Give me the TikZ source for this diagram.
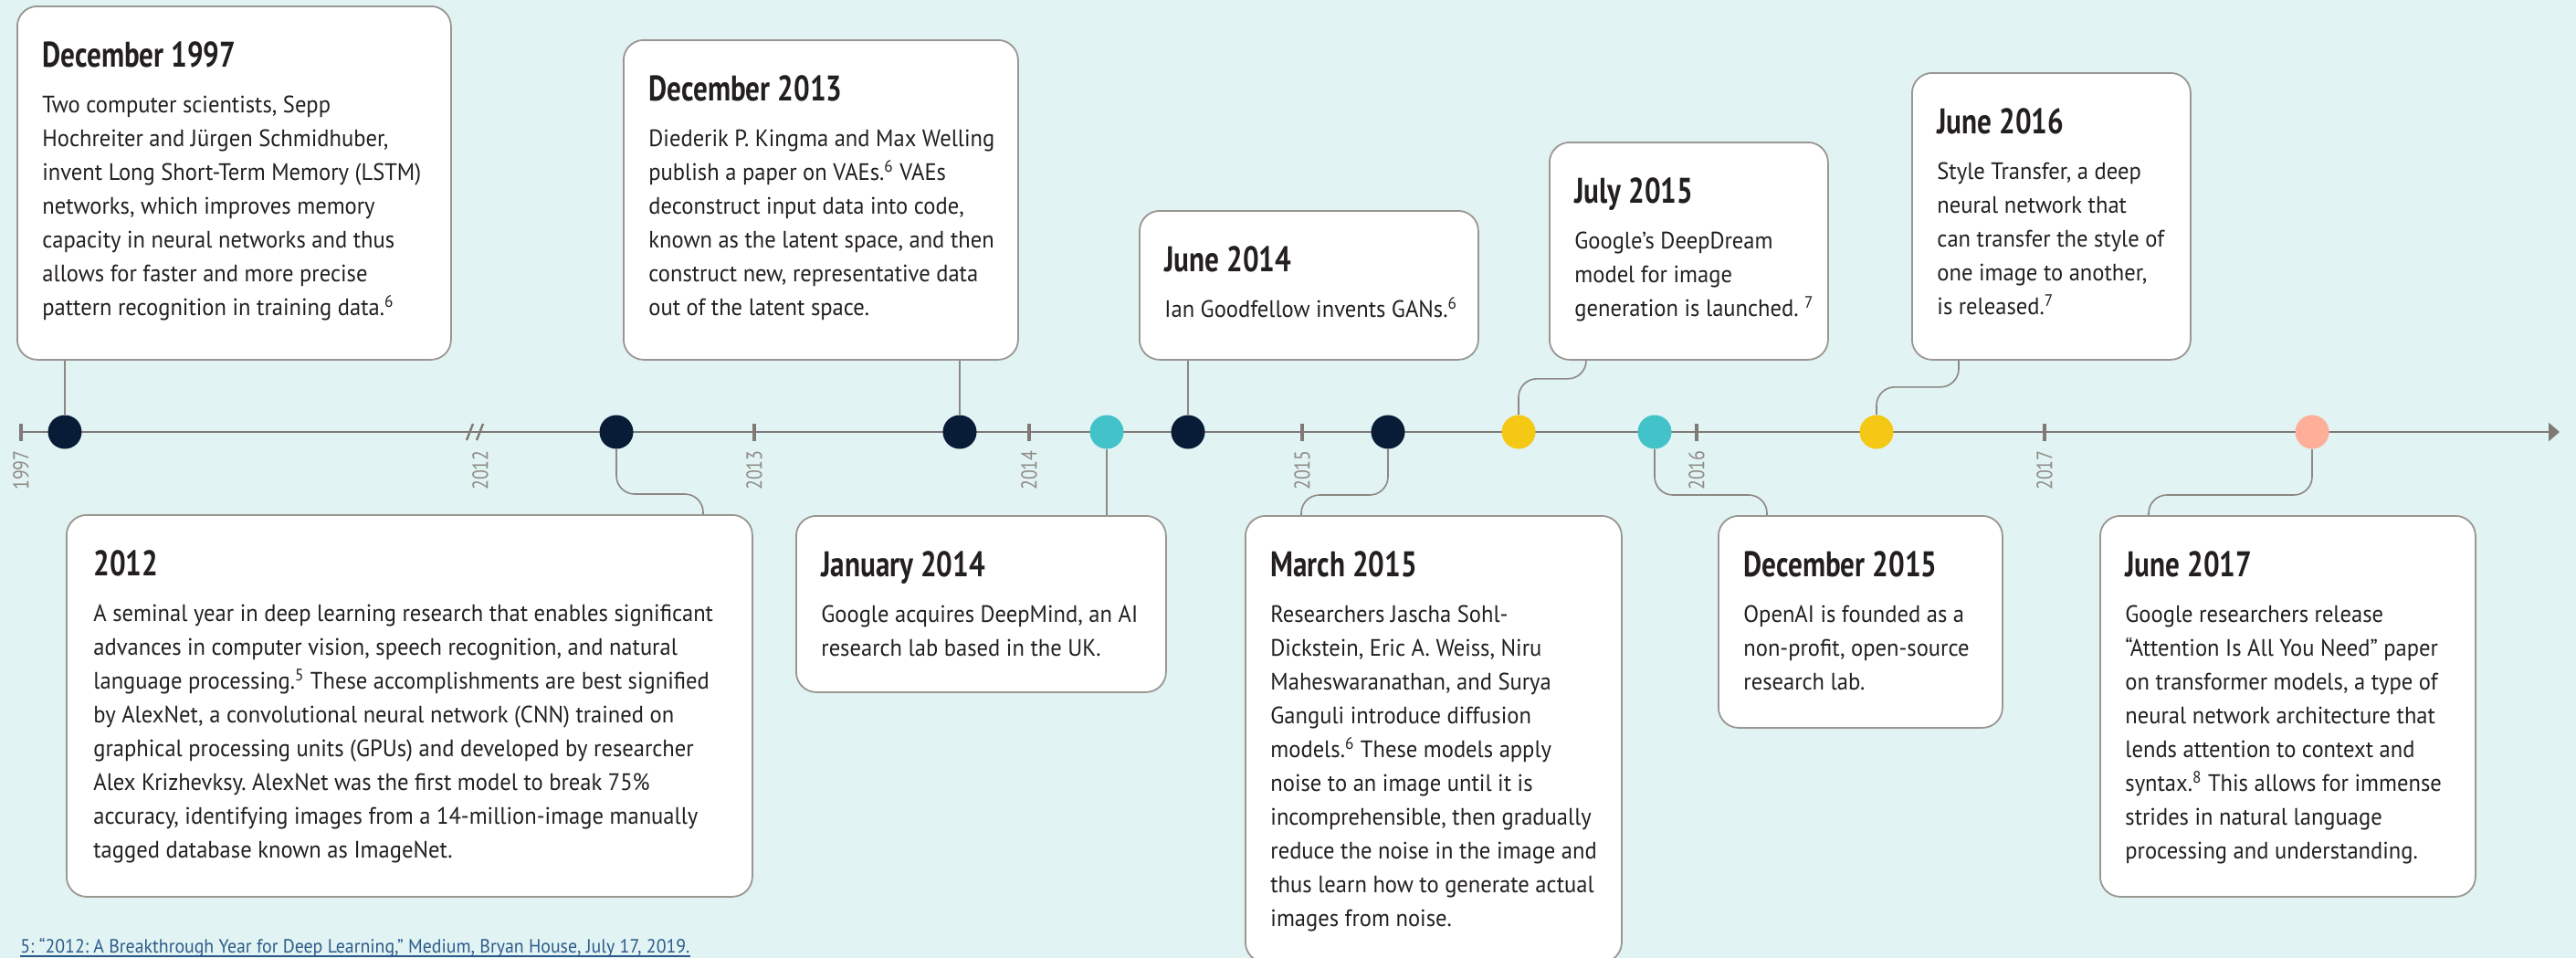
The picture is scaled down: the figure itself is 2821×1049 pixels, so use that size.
\documentclass[tikz,border=0pt]{standalone}
\usepackage{fontspec}
\usetikzlibrary{positioning,arrows.meta}

\newfontfamily\cardfont{PT Sans}[FakeStretch=0.945]
\newfontfamily\titlefont{PT Sans}[FakeStretch=0.8]
\newfontfamily\yearfont{PT Sans}[FakeStretch=0.83]

\definecolor{bgcol}{HTML}{E1F3F3}
\definecolor{navydot}{HTML}{081C38}
\definecolor{tealdot}{HTML}{42C3C9}
\definecolor{yellowdot}{HTML}{F5C815}
\definecolor{salmondot}{HTML}{FFAE99}
\definecolor{axisgrey}{HTML}{7F7A75}
\definecolor{linkgrey}{HTML}{8C8883}
\definecolor{yeargrey}{HTML}{8F8B86}
\definecolor{cardline}{HTML}{9A9792}
\definecolor{inkdark}{HTML}{231F20}
\definecolor{notecol}{HTML}{2D5B8A}

\tikzset{
  card/.style={draw=cardline, line width=0.9pt, fill=white, rounded corners=11pt,
    anchor=north west, inner sep=0pt},
  cardtext/.style={inner sep=0pt, align=left, text=inkdark,
    font=\cardfont\fontsize{13}{18.5}\selectfont\frenchspacing},
  event/.style={circle, inner sep=0pt, minimum size=18.5pt, fill=#1},
  link/.style={draw=linkgrey, line width=0.8pt, rounded corners=10pt},
  axis/.style={draw=axisgrey, line width=1.2pt},
  yeartick/.style={draw=axisgrey, line width=2pt},
  yearlabel/.style={rotate=90, anchor=east, inner sep=0pt, text=yeargrey,
    font=\yearfont\fontsize{12}{12}\selectfont},
  note/.style={inner sep=0pt, anchor=base west, text=notecol,
    font=\cardfont\fontsize{10.5}{12}\selectfont\frenchspacing}
}

\newcommand{\cardhead}[1]{{\titlefont\bfseries\fontsize{19.5}{25}\selectfont\rule{0pt}{15pt}#1}\\[6.5pt]}

\begin{document}
\begin{tikzpicture}[x=0.5pt, y=-0.5pt]
  \fill[bgcol] (0,0) rectangle (2821,1049);
  \useasboundingbox (0,0) rectangle (2821,1049);

  % time axis
  \coordinate (axstart) at (23,473);
  \coordinate (axend) at (2803,473);
  \draw[axis, -{Triangle[length=6pt, width=10pt]}] (axstart) -- (axend);
  \foreach \x/\yr in {23/1997, 826/2013, 1127/2014, 1426/2015, 1858/2016, 2239/2017} {
    \draw[yeartick] (\x,464) -- (\x,483);
    \node[yearlabel] (y\yr) at (\x,493) {\yr};
  }
  % break in the axis
  \draw[axis] (511,482) -- (518,464) (522,482) -- (529,464);
  \node[yearlabel] (y2012) at (526,493) {2012};

  % events
  \node[event=navydot] (d97) at (71,473) {};
  \node[event=navydot] (d12) at (675,473) {};
  \node[event=navydot] (d13) at (1051,473) {};
  \node[event=tealdot] (d14a) at (1212,473) {};
  \node[event=navydot] (d14b) at (1301,473) {};
  \node[event=navydot] (d15a) at (1520,473) {};
  \node[event=yellowdot] (d15b) at (1663,473) {};
  \node[event=tealdot] (d15c) at (1812,473) {};
  \node[event=yellowdot] (d16) at (2055,473) {};
  \node[event=salmondot] (d17) at (2532,473) {};

  % cards above the axis
  \node[card, minimum width=237.5pt, minimum height=193.5pt] (c97) at (18,6) {};
  \node[cardtext, below right=18.5pt and 14pt of c97.north west] (t97) {\cardhead{December 1997}%
    Two computer scientists, Sepp\\
    Hochreiter and Jürgen Schmidhuber,\\
    invent Long Short-Term Memory (LSTM)\\
    networks, which improves memory\\
    capacity in neural networks and thus\\
    allows for faster and more precise\\
    pattern recognition in training data.\textsuperscript{6}};

  \node[card, minimum width=216pt, minimum height=175pt] (c13) at (682,43) {};
  \node[cardtext, below right=18.5pt and 14pt of c13.north west] (t13) {\cardhead{December 2013}%
    Diederik P. Kingma and Max Welling\\
    publish a paper on VAEs.\textsuperscript{6} VAEs\\
    deconstruct input data into code,\\
    known as the latent space, and then\\
    construct new, representative data\\
    out of the latent space.};

  \node[card, minimum width=185.5pt, minimum height=81.5pt] (c14b) at (1247,230) {};
  \node[cardtext, below right=18.5pt and 14pt of c14b.north west] (t14b) {\cardhead{June 2014}%
    Ian Goodfellow invents GANs.\textsuperscript{6}};

  \node[card, minimum width=152.5pt, minimum height=119pt] (c15b) at (1696,155) {};
  \node[cardtext, below right=18.5pt and 14pt of c15b.north west] (t15b) {\cardhead{July 2015}%
    Google’s DeepDream\\
    model for image\\
    generation is launched. \textsuperscript{7}};

  \node[card, minimum width=152.5pt, minimum height=157pt] (c16) at (2093,79) {};
  \node[cardtext, below right=18.5pt and 14pt of c16.north west] (t16) {\cardhead{June 2016}%
    Style Transfer, a deep\\
    neural network that\\
    can transfer the style of\\
    one image to another,\\
    is released.\textsuperscript{7}};

  % cards below the axis
  \node[card, minimum width=375.5pt, minimum height=209pt] (c12) at (72,563) {};
  \node[cardtext, below right=18.5pt and 15pt of c12.north west] (t12) {\cardhead{2012}%
    A seminal year in deep learning research that enables significant\\
    advances in computer vision, speech recognition, and natural\\
    language processing.\textsuperscript{5} These accomplishments are best signified\\
    by AlexNet, a convolutional neural network (CNN) trained on\\
    graphical processing units (GPUs) and developed by researcher\\
    Alex Krizhevksy. AlexNet was the first model to break 75\%\\
    accuracy, identifying images from a 14-million-image manually\\
    tagged database known as ImageNet.};

  \node[card, minimum width=202.5pt, minimum height=96.5pt] (c14a) at (871,564) {};
  \node[cardtext, below right=18.5pt and 14pt of c14a.north west] (t14a) {\cardhead{January 2014}%
    Google acquires DeepMind, an AI\\
    research lab based in the UK.};

  \node[card, minimum width=206pt, minimum height=244.5pt] (c15a) at (1363,564) {};
  \node[cardtext, below right=18.5pt and 14pt of c15a.north west] (t15a) {\cardhead{March 2015}%
    Researchers Jascha Sohl-\\
    Dickstein, Eric A. Weiss, Niru\\
    Maheswaranathan, and Surya\\
    Ganguli introduce diffusion\\
    models.\textsuperscript{6} These models apply\\
    noise to an image until it is\\
    incomprehensible, then gradually\\
    reduce the noise in the image and\\
    thus learn how to generate actual\\
    images from noise.};

  \node[card, minimum width=155.5pt, minimum height=116pt] (c15c) at (1881,564) {};
  \node[cardtext, below right=18.5pt and 14pt of c15c.north west] (t15c) {\cardhead{December 2015}%
    OpenAI is founded as a\\
    non-profit, open-source\\
    research lab.};

  \node[card, minimum width=205.5pt, minimum height=208.5pt] (c17) at (2299,564) {};
  \node[cardtext, below right=18.5pt and 14pt of c17.north west] (t17) {\cardhead{June 2017}%
    Google researchers release\\
    “Attention Is All You Need” paper\\
    on transformer models, a type of\\
    neural network architecture that\\
    lends attention to context and\\
    syntax.\textsuperscript{8} This allows for immense\\
    strides in natural language\\
    processing and understanding.};

  % links from cards to events
  \draw[link] (c97.south -| d97) -- (d97);
  \draw[link] (c13.south -| d13) -- (d13);
  \draw[link] (c14b.south -| d14b) -- (d14b);
  \draw[link] ([xshift=20.5pt]c15b.south west) -- ++(0,-10pt) -| (d15b.north);
  \draw[link] ([xshift=26pt]c16.south west) -- ++(0,-14.5pt) -| (d16.north);
  \draw[link] (d12.south) |- ([xshift=349pt, yshift=11pt]c12.north west) -- ([xshift=349pt]c12.north west);
  \draw[link] (d14a) -- (d14a |- c14a.north);
  \draw[link] (d15a.south) |- ([xshift=31pt, yshift=11pt]c15a.north west) -- ([xshift=31pt]c15a.north west);
  \draw[link] (d15c.south) |- ([xshift=27pt, yshift=11pt]c15c.north west) -- ([xshift=27pt]c15c.north west);
  \draw[link] (d17.south) |- ([xshift=27pt, yshift=11pt]c17.north west) -- ([xshift=27pt]c17.north west);

  % footnote
  \node[note] (fn5) at (22,1043) {5: “2012: A Breakthrough Year for Deep Learning,” Medium, Bryan House, July 17, 2019.};
  \draw[notecol, line width=0.6pt] ([yshift=-2pt]fn5.base west) -- ([yshift=-2pt]fn5.base east);
\end{tikzpicture}
\end{document}
